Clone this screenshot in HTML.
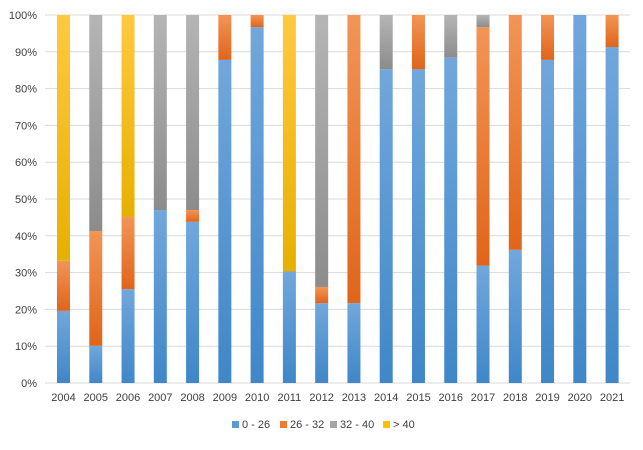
<!DOCTYPE html>
<html><head><meta charset="utf-8"><style>
body{margin:0;background:#fff;font-family:"Liberation Sans",sans-serif}
</style></head><body>
<svg id="chart" width="643" height="445" xmlns="http://www.w3.org/2000/svg">
<defs>
<linearGradient id="g0" x1="0" y1="0" x2="0" y2="1"><stop offset="0" stop-color="#71a7dc"/><stop offset="1" stop-color="#3f87c8"/></linearGradient>
<linearGradient id="g1" x1="0" y1="0" x2="0" y2="1"><stop offset="0" stop-color="#f29556"/><stop offset="1" stop-color="#e0651a"/></linearGradient>
<linearGradient id="g2" x1="0" y1="0" x2="0" y2="1"><stop offset="0" stop-color="#b5b5b5"/><stop offset="1" stop-color="#8c8c8c"/></linearGradient>
<linearGradient id="g3" x1="0" y1="0" x2="0" y2="1"><stop offset="0" stop-color="#ffc940"/><stop offset="1" stop-color="#e6b000"/></linearGradient>
</defs>
<g id="grid"></g><g id="bars"></g><g id="xlabels"></g><g id="ylabels"></g><g id="legend"></g>
</svg>
<script>
const categories=["2004","2005","2006","2007","2008","2009","2010","2011","2012","2013","2014","2015","2016","2017","2018","2019","2020","2021"];
const s0_26=[19.6,10.1,25.5,47,43.8,87.8,96.7,30.3,21.7,21.7,85.3,85.3,88.4,31.9,36.2,87.8,100,91.3];
const s26_32=[13.6,31.2,19.6,0,3.2,12.2,3.3,0,4.4,78.3,0,14.7,0,64.8,63.8,12.2,0,8.7];
const s32_40=[0,58.7,0,53,53,0,0,0,73.9,0,14.7,0,11.6,3.3,0,0,0,0];
const sOver40=[66.8,0,54.9,0,0,0,0,69.7,0,0,0,0,0,0,0,0,0,0];
const seriesNames=["0 - 26","26 - 32","32 - 40","> 40"];
const yTicks=[0,10,20,30,40,50,60,70,80,90,100];
const NS="http://www.w3.org/2000/svg";
const top0=15,bot=383,left=45,right=630;
const y=v=>bot-(v/100)*(bot-top0);
const x=i=>63.5+i*32.27;
function mk(t,a,p){const e=document.createElementNS(NS,t);for(const k in a)e.setAttribute(k,a[k]);p.appendChild(e);return e;}
const grid=document.getElementById('grid'),bars=document.getElementById('bars'),xl=document.getElementById('xlabels'),yl=document.getElementById('ylabels'),lg=document.getElementById('legend');
yTicks.forEach(t=>{
 const l=mk('line',{x1:left,x2:right,y1:y(t),y2:y(t),stroke:'#d9d9d9','stroke-width':1},grid);
 
 
 const tx=mk('text',{x:37,y:y(t)+4,'text-anchor':'end','font-size':11,fill:'#404040'},yl);
 tx.textContent=t+'%';
 
 
});
const series=[s0_26,s26_32,s32_40,sOver40];
categories.forEach((c,i)=>{
 let acc=0;
 series.forEach((s,k)=>{
  const v=s[i];if(v<=0)return;
  const r=mk('rect',{x:x(i)-6.5,y:y(acc+v),width:13,height:y(acc)-y(acc+v),fill:'url(#g'+k+')'},bars);
  
  
  acc+=v;
 });
 const tx=mk('text',{x:x(i),y:401,'text-anchor':'middle','font-size':11,fill:'#404040'},xl);
 tx.textContent=c;
 
 
});
const lx=[232,280,330,383];
const cols=['#5b9bd5','#ed7d31','#a5a5a5','#ffc000'];
seriesNames.forEach((n,k)=>{
 const g=mk('g',{},lg);
 
 
 mk('rect',{x:lx[k],y:421,width:7,height:7,fill:cols[k]},g);
 const t=mk('text',{x:lx[k]+10,y:428,'font-size':11,fill:'#404040'},g);
 t.textContent=n;
});
</script>
</body></html>
